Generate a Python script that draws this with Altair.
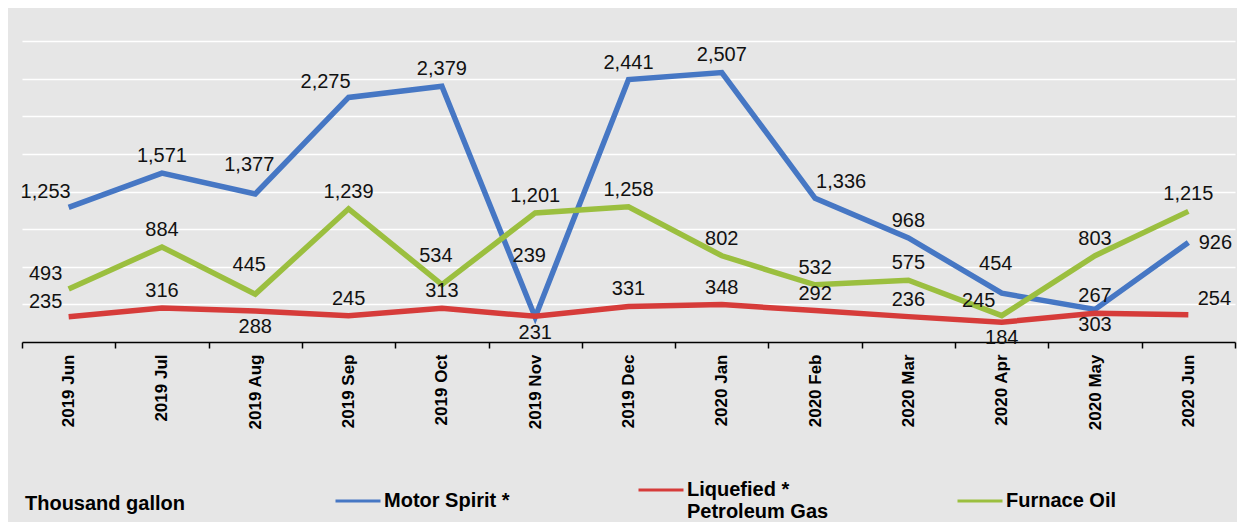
import altair as alt
import pandas as pd

months = ["2019 Jun", "2019 Jul", "2019 Aug", "2019 Sep", "2019 Oct", "2019 Nov",
          "2019 Dec", "2020 Jan", "2020 Feb", "2020 Mar", "2020 Apr", "2020 May", "2020 Jun"]

series_names = ["Motor Spirit *", "Liquefied * Petroleum Gas", "Furnace Oil"]
series_colors = ["#4677c4", "#d63c3a", "#9bbf3f"]

motor_spirit = [1253, 1571, 1377, 2275, 2379, 231, 2441, 2507, 1336, 968, 454, 303, 926]
lpg = [235, 316, 288, 245, 313, 239, 331, 348, 292, 236, 184, 267, 254]
furnace_oil = [493, 884, 445, 1239, 534, 1201, 1258, 802, 532, 575, 245, 803, 1215]

# label placement side for each point (style only)
motor_place = ["left", "above", "higher", "left", "above", "below", "above", "above",
               "upright", "above", "higher", "below", "right"]
lpg_place = ["left", "above", "below", "above", "above", "high", "above", "above",
             "above", "above", "below", "above", "upright"]
furnace_place = ["left", "above", "higher", "above", "higher", "above", "above", "above",
                 "above", "above", "left", "above", "above"]

OFFSETS = {
    "above": (0, -17),
    "higher": (-6, -29),
    "below": (0, 16),
    "left": (-23, -15),
    "upright": (26, -16),
    "right": (27, 1),
    "high": (-6, -60),
}

rows = []
for name, vals, places in zip(series_names, [motor_spirit, lpg, furnace_oil],
                              [motor_place, lpg_place, furnace_place]):
    for i, (m, v, p) in enumerate(zip(months, vals, places)):
        rows.append({"month": m, "idx": i, "series": name, "value": v, "place": p})
df = pd.DataFrame(rows)

FONT = "Liberation Sans"

x_enc = alt.X(
    "month:N",
    sort=months,
    scale=alt.Scale(type="band", paddingInner=0, paddingOuter=0),
    axis=alt.Axis(
        title=None,
        labelAngle=270,
        labelFontSize=17,
        labelFontWeight="bold",
        labelColor="black",
        labelFont=FONT,
        labelPadding=6,
        domainColor="black",
        domainWidth=1.5,
        tickColor="black",
        tickWidth=1.5,
        tickSize=6,
        tickBand="extent",
        grid=False,
    ),
)

y_enc = alt.Y(
    "value:Q",
    scale=alt.Scale(domain=[0, 2800], nice=False),
    axis=alt.Axis(
        title=None,
        values=[350, 700, 1050, 1400, 1750, 2100, 2450, 2800],
        grid=True,
        gridColor="white",
        gridWidth=1.5,
        domain=False,
        ticks=False,
        labels=False,
    ),
)

base = alt.Chart(df)

lines = base.mark_line(strokeWidth=5.5).encode(
    x=x_enc,
    y=y_enc,
    color=alt.Color(
        "series:N",
        sort=series_names,
        scale=alt.Scale(domain=series_names, range=series_colors),
        legend=alt.Legend(
            title="Thousand gallon",
            orient="none",
            legendX=3,
            legendY=425,
            direction="horizontal",
            titleOrient="left",
            titlePadding=149,
            titleFontSize=20,
            titleFontWeight="bold",
            titleColor="black",
            titleFont=FONT,
            titleBaseline="top",
            labelFontSize=20,
            labelFontWeight="bold",
            labelColor="black",
            labelFont=FONT,
            labelLimit=400,
            labelOffset=2,
            symbolType="stroke",
            symbolSize=2025,
            symbolStrokeWidth=3,
            columnPadding=122,
            labelExpr="datum.label == 'Liquefied * Petroleum Gas' ? ['Liquefied *', 'Petroleum Gas'] : datum.label",
        ),
    ),
    order=alt.Order("idx:Q"),
)

texts = []
for key, (dx, dy) in OFFSETS.items():
    texts.append(
        base.transform_filter(alt.datum.place == key)
        .mark_text(dx=dx, dy=dy, fontSize=20, font=FONT, color="#111111")
        .encode(x=x_enc, y=y_enc, text=alt.Text("value:Q", format=","))
    )

chart = (
    alt.layer(lines, *texts)
    .properties(
        width=1213,
        height=301,
        padding={"left": 14, "top": 33, "right": 2, "bottom": 180},
        autosize=alt.AutoSizeParams(type="none"),
    )
    .configure(background="#e6e6e6")
    .configure_view(stroke=None)
)

chart.save("out.html", embed_options={"renderer": "svg", "actions": False})
